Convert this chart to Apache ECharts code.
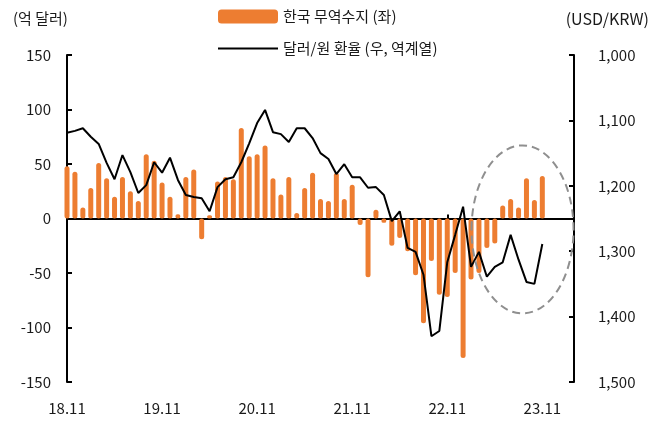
<!DOCTYPE html>
<html>
<head>
<meta charset="utf-8">
<script src="https://cdn.jsdelivr.net/npm/echarts@6/dist/echarts.min.js"></script>
<style>
html,body{margin:0;padding:0;background:#fff;}
#chart{width:662px;height:428px;}
</style>
</head>
<body>
<div id="chart"></div>
<script>
const categories = [
  '18.11','18.12',
  '19.01','19.02','19.03','19.04','19.05','19.06','19.07','19.08','19.09','19.10','19.11','19.12',
  '20.01','20.02','20.03','20.04','20.05','20.06','20.07','20.08','20.09','20.10','20.11','20.12',
  '21.01','21.02','21.03','21.04','21.05','21.06','21.07','21.08','21.09','21.10','21.11','21.12',
  '22.01','22.02','22.03','22.04','22.05','22.06','22.07','22.08','22.09','22.10','22.11','22.12',
  '23.01','23.02','23.03','23.04','23.05','23.06','23.07','23.08','23.09','23.10','23.11','23.12',
  '24.01','24.02','24.03'
];
// 한국 무역수지 (억 달러)
const tradeBalance = [
  48, 43,
  10, 28, 51, 37, 20, 38, 25, 16, 59, 53, 33, 20,
  4, 38, 45, -19, 3, 34, 38, 36, 83, 57, 59, 67,
  37, 22, 38, 5, 28, 42, 18, 16, 42, 18, 31, -6,
  -54, 8, -4, -25, -18, -30, -52, -96, -39, -70, -72, -50,
  -128, -56, -50, -27, -23, 12, 18, 10, 37, 17, 39
];
// 달러/원 환율
const usdKrw = [
  1119, 1116,
  1112, 1125, 1136, 1165, 1190, 1153, 1179, 1211, 1199, 1164, 1180, 1157,
  1191, 1214, 1217, 1219, 1239, 1202, 1190, 1187, 1164, 1135, 1104, 1084,
  1118, 1121, 1133, 1112, 1112, 1127, 1150, 1159, 1182, 1167, 1187, 1187,
  1203, 1202, 1214, 1254, 1239, 1295, 1301, 1336, 1430, 1422, 1317, 1275,
  1232, 1324, 1301, 1339, 1324, 1317, 1275, 1313, 1347, 1350, 1289
];
const leftAxis = {min: -150, max: 150, interval: 50};
const rightAxis = {min: 1000, max: 1500, interval: 100};
const seriesNames = ['한국 무역수지 (좌)', '달러/원 환율 (우, 역계열)'];

const FONT = '"Noto Sans CJK KR", "Noto Sans", sans-serif';
const TXT = '#1a1a1a';
const chart = echarts.init(document.getElementById('chart'), null, {renderer: 'canvas'});

const option = {
  animation: false,
  backgroundColor: '#fff',
  textStyle: {fontFamily: FONT, color: TXT},
  title: [
    {text: '(억 달러)', left: 8, top: 6, textStyle: {fontFamily: FONT, fontSize: 15, fontWeight: 'normal', color: TXT}},
    {text: '(USD/KRW)', right: 8, top: 6, textStyle: {fontFamily: FONT, fontSize: 16, fontWeight: 'normal', color: TXT}}
  ],
  legend: {
    orient: 'vertical',
    left: 212,
    top: 4,
    itemWidth: 60,
    itemHeight: 14,
    itemGap: 17,
    textStyle: {fontFamily: FONT, fontSize: 15, color: TXT},
    data: [
      {name: seriesNames[0], icon: 'roundRect'},
      {name: seriesNames[1], itemStyle: {opacity: 0}}
    ]
  },
  grid: {left: 67, right: 88, top: 55, bottom: 46, containLabel: false},
  xAxis: [
    {
      type: 'category',
      data: categories,
      boundaryGap: false,
      position: 'bottom',
      axisLine: {show: false, onZero: false},
      axisTick: {show: false},
      axisLabel: {interval: 11, margin: 19, fontFamily: FONT, fontSize: 15, color: TXT},
      splitLine: {show: false}
    },
    {
      type: 'category',
      data: categories,
      boundaryGap: false,
      position: 'bottom',
      axisLine: {show: true, onZero: true, onZeroAxisIndex: 0, lineStyle: {color: '#000', width: 2}},
      axisTick: {show: true, inside: true, interval: 11, length: 4, lineStyle: {color: '#000', width: 2}},
      axisLabel: {show: false},
      splitLine: {show: false}
    }
  ],
  yAxis: [
    {
      type: 'value',
      min: leftAxis.min, max: leftAxis.max, interval: leftAxis.interval,
      position: 'left',
      axisLine: {show: true, lineStyle: {color: '#000', width: 2}},
      axisTick: {show: true, inside: true, length: 5, lineStyle: {color: '#000', width: 2}},
      axisLabel: {margin: 16, fontFamily: FONT, fontSize: 15, color: TXT},
      splitLine: {show: false}
    },
    {
      type: 'value',
      min: rightAxis.min, max: rightAxis.max, interval: rightAxis.interval,
      inverse: true,
      position: 'right',
      axisLine: {show: true, lineStyle: {color: '#000', width: 2}},
      axisTick: {show: true, inside: true, length: 5, lineStyle: {color: '#000', width: 2}},
      axisLabel: {
        margin: 24, fontFamily: FONT, fontSize: 15, color: TXT,
        formatter: v => v.toLocaleString('en-US')
      },
      splitLine: {show: false}
    }
  ],
  series: [
    {
      name: seriesNames[0],
      type: 'bar',
      xAxisIndex: 0,
      yAxisIndex: 0,
      data: tradeBalance,
      barWidth: 5,
      itemStyle: {color: '#ED7D31', borderRadius: 2.5},
      z: 2
    },
    {
      name: seriesNames[1],
      type: 'line',
      xAxisIndex: 0,
      yAxisIndex: 1,
      data: usdKrw,
      symbol: 'none',
      showSymbol: false,
      lineStyle: {color: '#000', width: 2},
      itemStyle: {color: '#000'},
      z: 5
    }
  ]
};
chart.setOption(option);

// dashed ellipse highlighting the recent months
const c = chart.convertToPixel({xAxisIndex: 0, yAxisIndex: 0}, ['23.08', -10]);
chart.setOption({
  graphic: [{
    type: 'ellipse',
    shape: {cx: c[0] + 4, cy: c[1], rx: 51, ry: 84},
    style: {fill: 'none', stroke: '#8f8f8f', lineWidth: 2, lineDash: [8, 5]},
    z: 10,
    silent: true
  }]
});
</script>
</body>
</html>
